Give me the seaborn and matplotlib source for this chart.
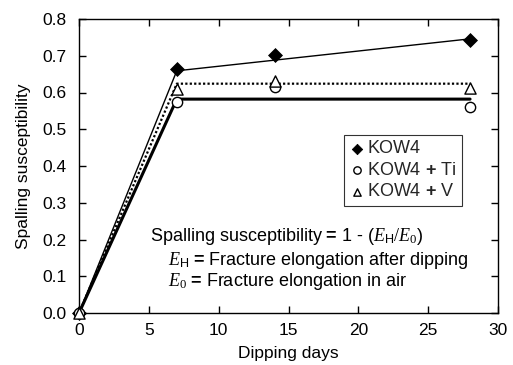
import matplotlib
matplotlib.use("Agg")
import matplotlib.pyplot as plt
import seaborn as sns

sns.set_theme(style="ticks")
plt.rcParams['font.family'] = ['Liberation Sans', 'DejaVu Sans']
plt.rcParams['mathtext.fontset'] = 'custom'
plt.rcParams['mathtext.rm'] = 'Liberation Serif'
plt.rcParams['mathtext.it'] = 'Liberation Serif:italic'
plt.rcParams['mathtext.sf'] = 'Liberation Sans'
plt.rcParams['mathtext.bf'] = 'Liberation Sans:bold'

days = [0, 7, 14, 28]
kow4 = [0.0, 0.665, 0.702, 0.743]
kow4_ti = [0.0, 0.574, 0.614, 0.560]
kow4_v = [0.0, 0.610, 0.632, 0.611]

fit_days = [0, 7, 28]
fit_kow4 = [0.0, 0.659, 0.746]
fit_ti = [0.0, 0.582, 0.582]
fit_v = [0.0, 0.624, 0.624]

xticks = [0, 5, 10, 15, 20, 25, 30]
yticks = [0.0, 0.1, 0.2, 0.3, 0.4, 0.5, 0.6, 0.7, 0.8]

FS = 12.5
FS2 = 13

fig = plt.figure(figsize=(5.13, 3.65), dpi=100)
ax = fig.add_axes([79/513, 1-313/365, (498-79)/513, (313-19)/365])

# fit lines
sns.lineplot(x=fit_days, y=fit_ti, ax=ax, color='black', lw=2.2, zorder=2)
sns.lineplot(x=fit_days, y=fit_v, ax=ax, color='black', lw=1.6, linestyle=(0, (1, 1)), zorder=2)
sns.lineplot(x=fit_days, y=fit_kow4, ax=ax, color='black', lw=1.0, zorder=2)

# markers
sns.scatterplot(x=days, y=kow4, ax=ax, marker='D', s=50, color='black',
                edgecolor='black', zorder=4, label='KOW4', clip_on=False)
sns.scatterplot(x=days, y=kow4_ti, ax=ax, marker='o', s=55, facecolor='white',
                edgecolor='black', linewidth=1.0, zorder=5, label=r'KOW4 ${\mathbf{+}}$ Ti',
                clip_on=False)
sns.scatterplot(x=days, y=kow4_v, ax=ax, marker='^', s=65, facecolor='white',
                edgecolor='black', linewidth=1.0, zorder=5, label=r'KOW4 ${\mathbf{+}}$ V',
                clip_on=False)

ax.set_xlim(0, 30)
ax.set_ylim(0, 0.8)
ax.set_xticks(xticks)
ax.set_yticks(yticks)
ax.set_xticklabels([str(t) for t in xticks])
ax.set_yticklabels([f"{t:.1f}" for t in yticks])
ax.tick_params(direction='in', top=True, right=True, length=5, width=1,
               labelsize=FS, colors='black')
ax.tick_params(axis='y', pad=9)
ax.tick_params(axis='x', pad=7)
for sp in ax.spines.values():
    sp.set_visible(True)
    sp.set_color('black')
    sp.set_linewidth(1.0)
ax.set_xlabel('Dipping days', fontsize=FS, color='black', labelpad=6)
ax.set_ylabel('Spalling susceptibility', fontsize=FS, color='black', labelpad=8)

leg = ax.legend(loc='upper left', bbox_to_anchor=((344-79)/419, (313-135)/294),
                frameon=True, fancybox=False, fontsize=FS2, handletextpad=0.2,
                handlelength=0.8, borderpad=0.3, labelspacing=0.25,
                borderaxespad=0)
leg.get_frame().set_edgecolor('black')
leg.get_frame().set_linewidth(0.8)
for h in leg.legend_handles:
    h.set_sizes([28])

ax.text(5.08, 0.207, r'Spalling susceptibility$\,{\mathbf{=}}\,$1 - ($E_{\mathsf{H}}/E_{0}$)',
        fontsize=FS2, color='black', va='center')
ax.text(6.37, 0.144, r'$E_{\mathsf{H}}\,{\mathbf{=}}\,$Fracture elongation after dipping',
        fontsize=FS2, color='black', va='center')
ax.text(6.37, 0.087, r'$E_{0}\,{\mathbf{=}}\,$Fracture elongation in air',
        fontsize=FS2, color='black', va='center')

fig.savefig('out.png', dpi=100)
